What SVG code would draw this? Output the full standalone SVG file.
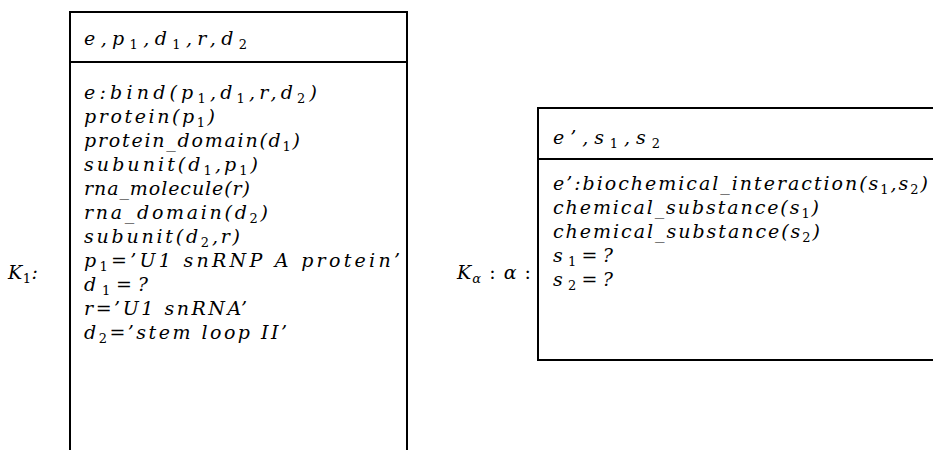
<svg xmlns="http://www.w3.org/2000/svg" width="933" height="450" viewBox="0 0 933 450">
<style>
text{font-family:"DejaVu Serif","Liberation Serif",serif;font-style:italic;font-size:19px;fill:#000}
.s{font-size:13px;font-style:normal}
.u{font-style:normal}
.box{fill:none;stroke:#000;stroke-width:2}
</style>
<rect width="933" height="450" fill="#fff"/>
<g id="labels">
<text x="8" y="279" textLength="30">K<tspan class="s" dy="4">1</tspan><tspan dy="-4">:</tspan></text>
<text x="457" y="279" textLength="74">K<tspan class="s" dy="4" style="font-style:italic">α</tspan><tspan dy="-4" class="u"> : </tspan>α<tspan class="u"> :</tspan></text>
</g>
<g id="K1">
<path class="box" d="M70,451 V12 H407 V451 M70,62 H407"/>
<text x="84" y="45" textLength="163">e,p<tspan class="s" dy="4">1</tspan><tspan dy="-4">,d</tspan><tspan class="s" dy="4">1</tspan><tspan dy="-4">,r,d</tspan><tspan class="s" dy="4">2</tspan></text>
<text x="84" y="99" textLength="233">e:bind(p<tspan class="s" dy="4">1</tspan><tspan dy="-4">,d</tspan><tspan class="s" dy="4">1</tspan><tspan dy="-4">,r,d</tspan><tspan class="s" dy="4">2</tspan><tspan dy="-4">)</tspan></text>
<text x="84" y="123" textLength="131">protein(p<tspan class="s" dy="4">1</tspan><tspan dy="-4">)</tspan></text>
<text x="84" y="147" textLength="216">protein_domain(d<tspan class="s" dy="4">1</tspan><tspan dy="-4">)</tspan></text>
<text x="84" y="171" textLength="174">subunit(d<tspan class="s" dy="4">1</tspan><tspan dy="-4">,p</tspan><tspan class="s" dy="4">1</tspan><tspan dy="-4">)</tspan></text>
<text x="84" y="195" textLength="166">rna_molecule(r)</text>
<text x="84" y="219" textLength="184">rna_domain(d<tspan class="s" dy="4">2</tspan><tspan dy="-4">)</tspan></text>
<text x="84" y="243" textLength="156">subunit(d<tspan class="s" dy="4">2</tspan><tspan dy="-4">,r)</tspan></text>
<text x="84" y="267" textLength="316">p<tspan class="s" dy="4">1</tspan><tspan dy="-4" class="u">=</tspan>’U1 snRNP A protein’</text>
<text x="84" y="291" textLength="64">d<tspan class="s" dy="4">1</tspan><tspan dy="-4" class="u">=</tspan>?</text>
<text x="84" y="315" textLength="163">r<tspan class="u">=</tspan>’U1 snRNA’</text>
<text x="84" y="339" textLength="203">d<tspan class="s" dy="4">2</tspan><tspan dy="-4" class="u">=</tspan>’stem loop II’</text>
</g>
<g id="Kalpha">
<path class="box" d="M934,108 H538 V360 H934 M538,159 H934"/>
<text x="553" y="144" textLength="107">e’,s<tspan class="s" dy="4">1</tspan><tspan dy="-4">,s</tspan><tspan class="s" dy="4">2</tspan></text>
<text x="553" y="190" textLength="375">e’:biochemical_interaction(s<tspan class="s" dy="4">1</tspan><tspan dy="-4">,s</tspan><tspan class="s" dy="4">2</tspan><tspan dy="-4">)</tspan></text>
<text x="553" y="214" textLength="266">chemical_substance(s<tspan class="s" dy="4">1</tspan><tspan dy="-4">)</tspan></text>
<text x="553" y="238" textLength="267">chemical_substance(s<tspan class="s" dy="4">2</tspan><tspan dy="-4">)</tspan></text>
<text x="553" y="262" textLength="60">s<tspan class="s" dy="4">1</tspan><tspan dy="-4" class="u">=</tspan>?</text>
<text x="553" y="286" textLength="60">s<tspan class="s" dy="4">2</tspan><tspan dy="-4" class="u">=</tspan>?</text>
</g>
<g id="connectors"></g>
</svg>
